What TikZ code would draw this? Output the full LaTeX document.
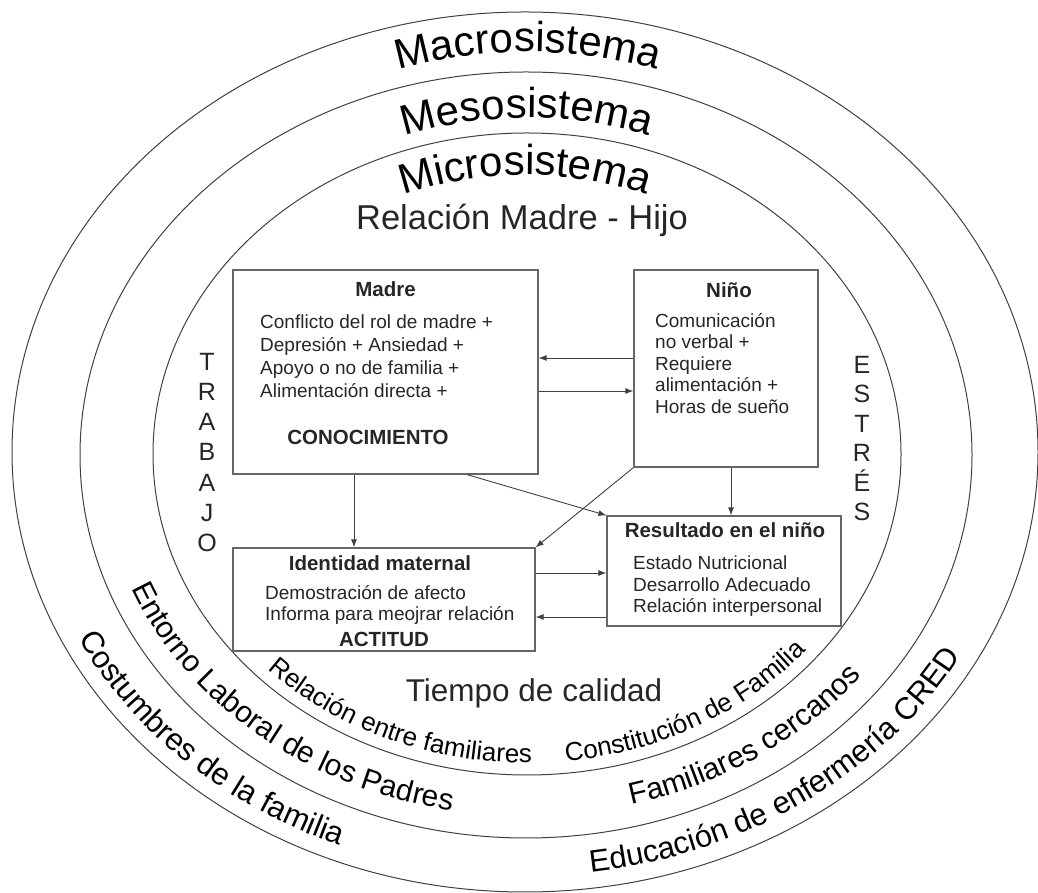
\documentclass[tikz,border=0pt]{standalone}
\usepackage{fontspec}
\setmainfont{Liberation Sans}
\usetikzlibrary{positioning, calc}
\usetikzlibrary{decorations.text}
\usetikzlibrary{arrows.meta}
\tikzset{>={Latex[width=6pt,length=8pt]}}
\tikzset{
  font={\fontsize{19pt}{23pt}\selectfont}}

\begin{document}
\begin{tikzpicture}[x=1pt, y=1pt, color=black!85,
     ring/.style={draw=black!75, line width=1pt},
     box/.style={draw=black!60, line width=1.2pt, inner sep=0pt},
     title/.style={font={\fontsize{20.5pt}{24pt}\selectfont\bfseries}, inner sep=0pt},
     body/.style={align=left, inner sep=0pt, anchor=north west},
     big/.style={font={\fontsize{31.5pt}{36pt}\selectfont}, inner sep=0pt, anchor=base},
     column/.style={align=center, inner sep=0pt},
     conn/.style={->, draw=black!75, line width=0.9pt},
     ]
     \useasboundingbox (0,0) rectangle (1038,893);

     %% sistemas
     \draw[ring] (525,441) ellipse [x radius=513, y radius=440];
     \draw[ring] (526,438) ellipse [x radius=446, y radius=383];
     \draw[ring] (527,439) ellipse [x radius=374, y radius=321];

     \path[decorate, decoration={text along path, text align=center,
       text={|\fontsize{42pt}{42pt}\selectfont|Macrosistema}}]
       (528,361) ++(160:480) arc[start angle=160, end angle=20, radius=480];
     \path[decorate, decoration={text along path, text align=center,
       text={|\fontsize{42pt}{42pt}\selectfont|Mesosistema}}]
       (527,355) ++(160:420) arc[start angle=160, end angle=20, radius=420];
     \path[decorate, decoration={text along path, text align=center,
       text={|\fontsize{42pt}{42pt}\selectfont|Microsistema}}]
       (525,338) ++(160:380) arc[start angle=160, end angle=20, radius=380];

     %% anillo exterior
     \path[decorate, decoration={text along path, text align=center,
       text={|\fontsize{31pt}{31pt}\selectfont|Costumbres de la familia}}]
       (525,441) ++(196:497 and 424) arc[start angle=196, end angle=257, x radius=497, y radius=424];
     \path[decorate, decoration={text along path, text align=center,
       text={|\fontsize{31pt}{31pt}\selectfont|Educación de enfermería CRED}}]
       (525,441) ++(269:497 and 424) arc[start angle=269, end angle=341, x radius=497, y radius=424];

     %% anillo medio
     \path[decorate, decoration={text along path, text align=center,
       text={|\fontsize{30pt}{30pt}\selectfont|Entorno Laboral de los Padres}}]
       (526,438) ++(190:424 and 361) arc[start angle=190, end angle=270, x radius=424, y radius=361];
     \path[decorate, decoration={text along path, text align=center,
       text={|\fontsize{30pt}{30pt}\selectfont|Familiares cercanos}}]
       (526,438) ++(273:424 and 361) arc[start angle=273, end angle=335, x radius=424, y radius=361];

     %% anillo interior
     \path[decorate, decoration={text along path, text align=center,
       text={|\fontsize{26pt}{26pt}\selectfont|Relación entre familiares}}]
       (527,439) ++(212:362 and 309) arc[start angle=212, end angle=282, x radius=362, y radius=309];
     \path[decorate, decoration={text along path, text align=center,
       text={|\fontsize{26pt}{26pt}\selectfont|Constitución de Familia}}]
       (527,439) ++(264:362 and 309) arc[start angle=264, end angle=334, x radius=362, y radius=309];

     \node[big, font={\fontsize{34.5pt}{38pt}\selectfont}] (relacion) at (522,663) {Relación Madre - Hijo};
     \node[big] (tiempo) at (534,191) {Tiempo de calidad};
     \node[column, font={\fontsize{25pt}{30.2pt}\selectfont}] (trabajo) at (207,440.5) {T\\R\\A\\B\\A\\J\\O};
     \node[column, font={\fontsize{25pt}{29.4pt}\selectfont}] (estres) at (862,454.5) {E\\S\\T\\R\\É\\S};

     %% cajas
     \node[box, minimum width=305pt, minimum height=204pt] (madre) at (385.5,521) {};
     \node[box, minimum width=184pt, minimum height=197pt] (nino) at (726,524.5) {};
     \node[box, minimum width=302pt, minimum height=103pt] (ident) at (384,293.5) {};
     \node[box, minimum width=234pt, minimum height=110pt] (result) at (724,322) {};

     \node[title] (madreT) at (385.5,604) {Madre};
     \node[body] (madreB) at (260,578) {Conflicto del rol de madre +\\Depresión + Ansiedad +\\Apoyo o no de familia +\\Alimentación directa +};
     \node[title] (madreC) at (368,456) {CONOCIMIENTO};

     \node[title] (ninoT) at (729,603) {Niño};
     \node[body, font={\fontsize{19pt}{21.5pt}\selectfont}] (ninoB) at (655,580) {Comunicación\\no verbal +\\Requiere\\alimentación +\\Horas de sueño};

     \node[title] (identT) at (380,330) {Identidad maternal};
     \node[body, font={\fontsize{19pt}{21pt}\selectfont}] (identB) at (265,308) {Demostración de afecto\\Informa para meojrar relación};
     \node[title] (identC) at (384,254) {ACTITUD};

     \node[title] (resultT) at (725,363) {Resultado en el niño};
     \node[body, font={\fontsize{19pt}{21.5pt}\selectfont}] (resultB) at (633,337) {Estado Nutricional\\Desarrollo Adecuado\\Relación interpersonal};

     %% conexiones
     \coordinate (n2m) at ([yshift=10.5pt]nino.west);
     \coordinate (m2n) at ([yshift=-19pt]madre.east);
     \coordinate (m2i) at ([xshift=-31.5pt]madre.south);
     \coordinate (m2r) at ([xshift=81.5pt]madre.south);
     \coordinate (n2r) at ([xshift=5pt]nino.south);
     \coordinate (i2r) at ([yshift=26.5pt]ident.east);
     \coordinate (r2i) at ([yshift=-46pt]result.west);

     \draw[conn] (n2m) -- (n2m -| madre.east);
     \draw[conn] (m2n) -- (m2n -| nino.west);
     \draw[conn] (m2i) -- (m2i |- ident.north);
     \draw[conn] (m2r) -- (result.north west);
     \draw[conn] (nino.south west) -- (ident.north east);
     \draw[conn] (n2r) -- (n2r |- result.north);
     \draw[conn] (i2r) -- (i2r -| result.west);
     \draw[conn] (r2i) -- (r2i -| ident.east);
\end{tikzpicture}
\end{document}
